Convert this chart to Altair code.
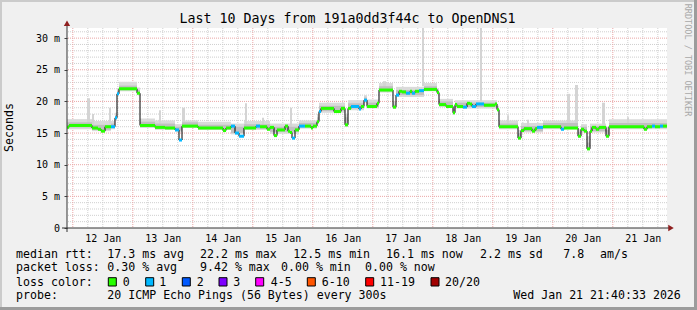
import json
import altair as alt
import pandas as pd

MONO = "DejaVu Sans Mono"

# ---- time axis: hours since Sun 2026-01-11 21:40:33 (10-day window) ----
SPAN_H = 240
FIRST_MIDNIGHT_H = 2.3242          # 2026-01-12 00:00
Y_TOP = 31.6                       # ms
day_labels = ["12 Jan", "13 Jan", "14 Jan", "15 Jan", "16 Jan",
              "17 Jan", "18 Jan", "19 Jan", "20 Jan", "21 Jan"]
y_tick_values = [0, 5, 10, 15, 20, 25, 30]

# ---- median RTT (ms), step segments; loss = pings lost of 20 ----
med_start = [0, 0.8, 10.0, 12.4, 13.6, 15.2, 17.6, 19.2, 20.0, 20.8, 28.0, 29.2, 35.2, 39.2,
             43.2, 44.8, 46.0, 52.4, 62.4, 63.6, 65.6, 67.2, 68.8, 70.8, 75.6, 77.2, 80.0,
             81.2, 82.8, 84.0, 87.2, 88.4, 89.2, 90.0, 91.2, 92.8, 95.2, 97.6, 98.4, 100.0,
             100.8, 101.6, 106.8, 109.6, 111.2, 112.4, 113.6, 116.8, 117.6, 118.8, 120.0,
             124.0, 124.8, 130.4, 131.6, 132.8, 134.0, 135.6, 137.2, 138.0, 139.2, 140.8,
             142.8, 148.0, 148.8, 151.6, 154.4, 155.2, 156.0, 158.4, 160.0, 161.2, 162.0,
             163.6, 166.8, 171.2, 172.0, 172.8, 180.4, 181.6, 182.8, 186.0, 187.2, 188.0,
             190.4, 197.6, 198.8, 204.4, 205.6, 206.8, 208.0, 209.2, 210.0, 211.6, 212.8,
             215.6, 216.8, 230.8, 232.0, 234.0, 235.2, 237.2, 238.4]
med_ms = [15.9, 16.2, 15.8, 15.6, 15.3, 16.0, 16.0, 17.4, 21.2, 22.0, 21.3, 16.2, 15.9, 15.8,
          15.5, 13.9, 16.1, 15.8, 15.4, 15.8, 16.1, 15.0, 14.5, 15.8, 16.1, 16.0, 15.6, 15.9,
          14.6, 15.5, 16.1, 15.3, 15.1, 14.2, 15.5, 16.1, 16.1, 15.8, 16.1, 16.8, 18.4, 18.9,
          18.4, 18.9, 16.3, 18.9, 19.2, 18.8, 19.2, 20.2, 19.2, 19.7, 21.8, 19.1, 21.0, 21.6,
          21.5, 21.3, 21.6, 21.3, 21.6, 21.7, 21.9, 21.4, 19.5, 19.2, 18.2, 19.5, 19.2, 19.1,
          19.7, 19.6, 19.2, 19.6, 19.4, 19.6, 18.7, 16.0, 14.2, 15.4, 15.7, 15.3, 15.7, 15.9,
          16.0, 15.6, 15.8, 14.5, 15.6, 15.3, 12.5, 15.3, 15.9, 15.6, 15.9, 14.5, 16.0, 15.6,
          16.0, 16.1, 16.0, 16.1, 16.1]
med_loss = [0, 0, 0, 0, 0, 0, 1, 1, 1, 0, 0, 0, 0, 0, 1, 1, 0, 0, 0, 0, 1, 1, 1, 0, 1,
            0, 0, 0, 0, 0, 0, 0, 0, 1, 0, 1, 0, 0, 0, 0, 1, 0, 0, 0, 0, 0, 1, 1, 0, 1,
            0, 0, 0, 0, 1, 0, 0, 1, 0, 1, 0, 1, 0, 0, 0, 0, 0, 0, 0, 1, 0, 0, 1, 1,
            0, 0, 0, 0, 0, 0, 0, 0, 0, 1, 0, 1, 0, 0, 0, 0, 0, 0, 0, 0, 0, 0, 0, 0, 0,
            1, 0, 1, 0]

# ---- smoke (spread of the 20 pings), ms ----
smoke_start = [0, 10.0, 17.6, 19.2, 20.0, 20.8, 28.0, 29.2, 35.2, 43.2, 46.0, 52.4, 65.6,
               70.8, 81.2, 92.8, 100.0, 100.8, 111.2, 112.4, 118.8, 120.0, 124.8, 130.4,
               131.6, 142.8, 148.0, 148.8, 154.4, 155.2, 172.0, 172.8, 180.4, 181.6, 190.4,
               204.4, 205.6, 208.0, 209.2, 215.6, 216.8]
smoke_lo = [15.6, 15.3, 15.6, 17.0, 20.8, 21.6, 21.0, 15.8, 15.5, 15.2, 15.8, 15.5, 14.8,
            15.5, 14.9, 15.7, 16.5, 18.2, 16.0, 18.6, 19.8, 18.9, 21.4, 18.8, 20.7, 21.6,
            21.1, 19.1, 17.9, 18.9, 18.4, 15.6, 14.0, 15.1, 15.6, 14.3, 15.1, 12.3, 15.1,
            14.3, 15.6]
smoke_core_lo = [15.9, 15.5, 15.8, 17.2, 21.0, 21.8, 21.2, 16.0, 15.7, 15.4, 16.0, 15.7, 15.0,
                 15.7, 15.2, 15.9, 16.7, 18.5, 16.2, 18.9, 20.0, 19.1, 21.6, 19.0, 21.0, 21.8,
                 21.3, 19.3, 18.1, 19.1, 18.6, 15.8, 14.2, 15.3, 15.8, 14.5, 15.3, 12.5, 15.3,
                 14.5, 15.8]
smoke_core_hi = [16.7, 16.3, 16.5, 17.8, 21.7, 22.5, 21.8, 16.8, 16.5, 16.0, 16.7, 16.3, 16.0,
                 16.4, 16.0, 16.6, 17.5, 19.3, 17.5, 19.7, 20.6, 19.8, 22.4, 19.5, 21.8, 22.4,
                 21.8, 20.0, 18.8, 19.8, 19.0, 16.5, 15.0, 16.1, 16.6, 15.2, 16.0, 13.5, 16.1,
                 15.5, 16.6]
smoke_hi = [17.2, 16.9, 16.9, 18.2, 22.0, 23.1, 22.2, 17.3, 17.0, 16.4, 17.0, 16.8, 16.5,
            16.9, 16.5, 17.0, 18.0, 19.8, 18.0, 20.2, 21.0, 20.3, 22.9, 20.0, 22.3, 22.9,
            22.1, 20.4, 19.2, 20.2, 19.3, 17.0, 15.5, 16.6, 17.0, 15.6, 16.4, 14.5, 16.5,
            16.0, 17.2]

# ---- isolated slow pings (tall smoke spikes) ----
spike_start = [8.0, 10.0, 16.8, 36.8, 46.0, 71.2, 78.0, 89.2, 118.8, 126.4, 142.0, 165.2,
               176.0, 184.0, 200.0, 203.2, 214.0, 224.0]
spike_end = [9.2, 10.8, 17.6, 37.6, 47.2, 72.0, 78.8, 90.0, 119.6, 127.6, 142.8, 166.0,
             176.8, 184.8, 201.2, 204.4, 215.2, 224.8]
spike_lo = [16.5, 16.3, 16.5, 16.5, 16.7, 16.4, 16.3, 16.0, 20.2, 22.4, 22.4, 20.0,
            16.5, 16.1, 16.6, 16.6, 16.0, 16.6]
spike_hi = [20.5, 18.0, 19.0, 18.6, 19.0, 19.7, 17.4, 19.0, 20.8, 23.2, 31.6, 31.6,
            17.8, 17.1, 21.2, 22.6, 19.8, 17.5]

loss_names = ["0", "1", "2", "3", "4-5", "6-10", "11-19", "20/20"]
loss_colors = ["#26ff00", "#00b8ff", "#0059ff", "#7e00ff", "#ff00ff", "#ff5500", "#ff0000", "#a00000"]

title_text = "Last 10 Days from 191a0dd3f44c to OpenDNS1"
stat_lines = [
    ["median rtt:", "17.3 ms avg", "22.2 ms max", "12.5 ms min", "16.1 ms now", "2.2 ms sd", "7.8", "am/s"],
    ["packet loss:", "0.30 % avg", "9.42 % max", "0.00 % min", "0.00 % now"],
    ["probe:", "20 ICMP Echo Pings (56 Bytes) every 300s", "Wed Jan 21 21:40:33 2026"],
]

# ---------------- tables ----------------
median_df = pd.DataFrame({"t": med_start, "t2": med_start[1:] + [SPAN_H], "ms": med_ms,
                          "loss": [loss_names[i] for i in med_loss]})
line_df = pd.DataFrame({"t": med_start + [SPAN_H], "ms": med_ms + [med_ms[-1]]})
smoke_df = pd.DataFrame({"t": smoke_start, "t2": smoke_start[1:] + [SPAN_H], "lo": smoke_lo,
                         "clo": smoke_core_lo, "chi": smoke_core_hi, "hi": smoke_hi})
spike_df = pd.DataFrame({"t": spike_start, "t2": spike_end, "lo": spike_lo, "hi": spike_hi})

minor_v = pd.DataFrame({"t": [FIRST_MIDNIGHT_H + 6 * j for j in range(40) if j % 4]})
major_v = pd.DataFrame({"t": [FIRST_MIDNIGHT_H + 24 * k for k in range(10)]})
minor_h = pd.DataFrame({"v": [v for v in range(1, 32) if v % 5]})
major_h = pd.DataFrame({"v": [5, 10, 15, 20, 25, 30]})
one = pd.DataFrame({"k": [0]})

noon_ticks = [FIRST_MIDNIGHT_H + 12 + 24 * k for k in range(10)]

xscale = alt.Scale(domain=[0, SPAN_H], nice=False, zero=False)
yscale = alt.Scale(domain=[0, Y_TOP], nice=False, zero=True)
xaxis = alt.Axis(values=noon_ticks,
                 labelExpr=f"{json.dumps(day_labels)}[round((datum.value - {noon_ticks[0]}) / 24)]",
                 grid=False, domain=False, ticks=False, tickSize=0, labelPadding=10,
                 labelBaseline="middle", labelFont=MONO, labelFontSize=10, labelColor="#000000",
                 labelOverlap=False, labelFlush=False, title=None)
yaxis = alt.Axis(values=y_tick_values,
                 labelExpr="datum.value == 0 ? '0\u00a0\u00a0' : datum.value + ' m'",
                 grid=False, domain=False, ticks=True, tickSize=3, tickColor="#444444",
                 labelPadding=4.5, labelFont=MONO, labelFontSize=10, labelColor="#000000",
                 labelOverlap=False, title=None)


def X(f):
    return alt.X(f"{f}:Q", scale=xscale, axis=xaxis)


def Y(f):
    return alt.Y(f"{f}:Q", scale=yscale, axis=yaxis)


layers = []
# grid
layers.append(alt.Chart(minor_h).mark_rule(color="#cfcfcf", strokeWidth=1, strokeDash=[1, 1]).encode(y=Y("v")))
layers.append(alt.Chart(minor_v).mark_rule(color="#cfcfcf", strokeWidth=1, strokeDash=[1, 1]).encode(x=X("t")))
layers.append(alt.Chart(major_h).mark_rule(color="#eaa6a6", strokeWidth=1, strokeDash=[1, 1]).encode(y=Y("v")))
layers.append(alt.Chart(major_v).mark_rule(color="#eaa6a6", strokeWidth=1, strokeDash=[1, 1]).encode(x=X("t")))
# smoke
layers.append(alt.Chart(smoke_df).mark_rect(color="#dadada").encode(x=X("t"), x2="t2", y=Y("lo"), y2="hi"))
layers.append(alt.Chart(spike_df).mark_rect(color="#d4d4d4").encode(x=X("t"), x2="t2", y=Y("lo"), y2="hi"))
layers.append(alt.Chart(smoke_df).mark_rect(color="#c0c0c0").encode(x=X("t"), x2="t2", y=Y("clo"), y2="chi"))
# median
layers.append(alt.Chart(line_df).mark_line(interpolate="step-after", color="#000000", strokeWidth=1)
              .encode(x=X("t"), y=Y("ms")))
layers.append(alt.Chart(median_df).mark_rule(strokeWidth=3, strokeCap="butt")
              .encode(x=X("t"), x2="t2", y=Y("ms"),
                      color=alt.Color("loss:N", scale=alt.Scale(domain=loss_names, range=loss_colors),
                                      legend=None)))


def rect_px(x0, x1, y0, y1, fill, stroke=None):
    kw = {"fill": fill}
    if stroke:
        kw.update(stroke=stroke, strokeWidth=1)
    return alt.Chart(one).mark_rect(**kw).encode(
        x=alt.value(x0), x2=alt.value(x1), y=alt.value(y0), y2=alt.value(y1))


def text_px(txt, x, y, size=11.6, align="left", angle=None, color="#000000"):
    kw = {"font": MONO, "fontSize": size, "align": align, "baseline": "middle", "color": color}
    if angle is not None:
        kw["angle"] = angle
    return alt.Chart(one).mark_text(**kw).encode(x=alt.value(x), y=alt.value(y), text=alt.value(txt))


# axis lines and arrows (plot origin is at page pixel 67, 28)
layers.append(alt.Chart(one).mark_rule(color="#333333", strokeWidth=1).encode(
    x=alt.value(-5), x2=alt.value(603), y=alt.value(200)))
layers.append(alt.Chart(one).mark_rule(color="#333333", strokeWidth=1).encode(
    x=alt.value(0), y=alt.value(-3), y2=alt.value(204)))
layers.append(alt.Chart(one).mark_point(shape="triangle-right", filled=True, size=40, color="#8f1f1f", opacity=1)
              .encode(x=alt.value(604), y=alt.value(200)))
layers.append(alt.Chart(one).mark_point(shape="triangle-up", filled=True, size=40, color="#8f1f1f", opacity=1)
              .encode(x=alt.value(0), y=alt.value(-4.7)))

# texts
layers.append(text_px(title_text, 280.5, -9, size=13.3, align="center"))
layers.append(text_px("Seconds", -57, 99.5, angle=270, align="center"))
layers.append(text_px("RRDTOOL / TOBI OETIKER", 620.7, 32, size=8.5, align="center", angle=90, color="#a8a8a8"))

line_y = [226.7, 240.3, 268.2]
line_x = [[16, 107.3, 200, 293.3, 386, 480, 563.3, 600],
          [16, 107.3, 200, 281, 365],
          [16, 107.3, 513.3]]
for pieces, xs, yy in zip(stat_lines, line_x, line_y):
    for p, xx in zip(pieces, xs):
        layers.append(text_px(p, xx - 67, yy))

# loss color legend
layers.append(text_px("loss color:", 16 - 67, 254.5))
sw_x = [108.3, 145.7, 182.3, 219, 255.7, 307.3, 365.7, 431]
lab_x = [122.7, 159.3, 196.7, 233.3, 270.7, 321.7, 380, 445]
for name, col, sx, lx in zip(loss_names, loss_colors, sw_x, lab_x):
    layers.append(rect_px(sx - 67, sx - 67 + 8, 249.7, 258, col, stroke="#000000"))
    layers.append(text_px(name, lx - 67, 254.5))

# 3D frame
layers.append(rect_px(-67, 630, -28, -26, "#cbcbcb"))
layers.append(rect_px(-67, -65, -28, 282, "#cbcbcb"))
layers.append(rect_px(-67, 630, 279, 282, "#9c9c9c"))
layers.append(rect_px(627, 630, -28, 282, "#9c9c9c"))

chart = alt.layer(*layers).properties(
    width=600, height=200,
    padding={"left": 67, "top": 28, "right": 30, "bottom": 82},
    autosize=alt.AutoSizeParams(type="none"),
    background="#f0f0f0",
).configure_view(fill="#ffffff", strokeWidth=0)

chart.save("out.html", embed_options={"renderer": "svg", "actions": False})
